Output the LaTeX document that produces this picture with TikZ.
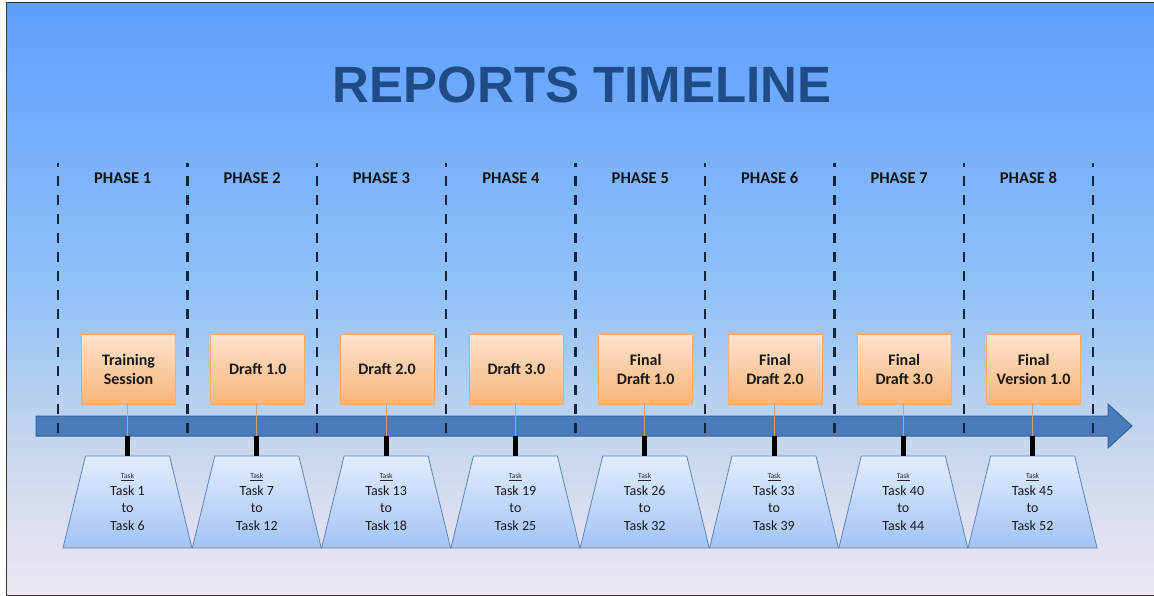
\documentclass[tikz,border=0pt]{standalone}
\usepackage{fontspec}
\setmainfont{Carlito}
\newfontfamily\titlefont{Liberation Sans}
\definecolor{bgA}{HTML}{5D9EFE}
\definecolor{bgB}{HTML}{94C3F7}
\definecolor{bgC}{HTML}{C6D6ED}
\definecolor{bgD}{HTML}{EEE7F4}
\definecolor{titleblue}{HTML}{1F4C86}
\definecolor{dashnavy}{HTML}{14243C}
\definecolor{bandfill}{HTML}{4A7BBA}
\definecolor{banddraw}{HTML}{36639C}
\definecolor{peachtop}{HTML}{FDE4CE}
\definecolor{peachbot}{HTML}{F9B478}
\definecolor{peachline}{HTML}{F2AE78}
\definecolor{traptop}{HTML}{E2EDFD}
\definecolor{trapbot}{HTML}{A2C3F5}
\definecolor{trapline}{HTML}{5A86C2}
\definecolor{stemtan}{HTML}{C9A182}
\begin{document}
\begin{tikzpicture}[x=1pt,y=-1pt,
  phaselabel/.style={font=\fontsize{16.5}{18}\selectfont\bfseries, text=black!92, inner sep=0},
  deliv/.style={draw=peachline, line width=0.8pt, top color=peachtop, bottom color=peachbot,
    minimum width=94pt, minimum height=70pt, inner sep=0, align=center,
    font=\fontsize{16}{19}\selectfont\bfseries, text=black!90},
  trapbox/.style={draw=trapline, line width=0.8pt, top color=traptop, bottom color=trapbot},
  tasktag/.style={font=\fontsize{7.5}{9}\selectfont, text=black!85, inner sep=0},
  tasktext/.style={font=\fontsize{14}{17.5}\selectfont, align=center, text=black!90, inner sep=0},
  phasesep/.style={draw=dashnavy, line width=2.5pt, dash pattern=on 10pt off 9pt, dash phase=6pt},
  stem/.style={draw=stemtan, line width=0.9pt},
  post/.style={draw=black, line width=5pt}]
\useasboundingbox (0,0) rectangle (1154,596);

% background
\shade[top color=bgA, bottom color=bgB] (6,3) rectangle (1154,300);
\shade[top color=bgB, bottom color=bgC] (6,299.5) rectangle (1154,440);
\shade[top color=bgC, bottom color=bgD] (6,439.5) rectangle (1154,595);
\draw[black!80, line width=1pt] (6,3) -- (1160,3);
\draw[black!80, line width=1pt] (6,3) -- (6,595) -- (1160,595);

% title
\node[font=\titlefont\fontsize{51}{56}\selectfont\bfseries, text=titleblue] (title) at (582,85) {REPORTS TIMELINE};

% timeline arrow
\path[fill=bandfill, draw=banddraw, line width=1pt]
  (36,416) -- (1108,416) -- (1108,404) -- (1132,426) -- (1108,448) -- (1108,436) -- (36,436) -- cycle;

% phase separators
\foreach \j in {0,...,8} {
  \coordinate (sep\j top) at ({58+129.4*\j},163);
  \coordinate (sep\j bot) at ({58+129.4*\j},437);
  \draw[phasesep] (sep\j top) -- (sep\j bot);
}

% phase labels
\foreach \i in {1,...,8} {
  \node[phaselabel] (ph\i) at ({58+129.4*(\i-0.5)},178) {PHASE \i};
}

% deliverables, stems and task ranges
\foreach \i/\what/\from/\to in {
  1/{Training\\Session}/1/6,
  2/{Draft 1.0}/7/12,
  3/{Draft 2.0}/13/18,
  4/{Draft 3.0}/19/25,
  5/{Final\\Draft 1.0}/26/32,
  6/{Final\\Draft 2.0}/33/39,
  7/{Final\\Draft 3.0}/40/44,
  8/{Final\\Version 1.0}/45/52} {
  \pgfmathsetmacro{\cx}{127.5+129.3*(\i-1)}
  \node[deliv] (b\i) at (\cx+1,369) {\what};
  \coordinate (bb\i) at (\cx,436);
  \coordinate (tt\i) at (\cx,456);
  \path[trapbox] (\cx-64.5,548) -- (\cx-42,456) -- (\cx+42,456) -- (\cx+64.5,548) -- cycle;
  \draw[stem] (b\i.south -| bb\i) -- (bb\i);
  \draw[post] (bb\i) -- (tt\i);
  \node[tasktag] (tag\i) at (\cx,477) {\underline{Task}};
  \node[tasktext] (t\i) at (\cx,508) {Task \from\\to\\Task \to};
}
\end{tikzpicture}
\end{document}
